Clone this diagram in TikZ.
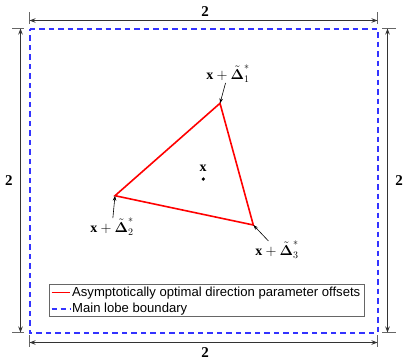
\documentclass[tikz,border=0pt]{standalone}
\usepackage{amsmath,amssymb,bm}
\usepackage{fontspec}
\setmainfont{Liberation Serif}
\newfontfamily\legendfont{Liberation Sans}
\usetikzlibrary{arrows.meta,positioning}

\begin{document}
\begin{tikzpicture}[
  x=1pt, y=-1pt,
  >=Stealth,
  dimarrow/.style={{Stealth[length=6pt,width=4.5pt]}-{Stealth[length=6pt,width=4.5pt]}, line width=1.1pt, black!80},
  extline/.style={line width=0.8pt, black!60},
  dimlabel/.style={font=\fontsize{15}{15}\selectfont\bfseries, inner sep=0pt},
  lobe/.style={draw=blue!80, dash pattern=on 5.5pt off 4pt, line width=2pt},
  offset/.style={draw=red, line width=1.6pt},
  vlabel/.style={font=\fontsize{14}{15}\selectfont, inner sep=0pt},
  pointer/.style={-{Stealth[length=5pt,width=3.5pt]}, line width=0.6pt},
  legendtext/.style={font=\legendfont\fontsize{13.1}{14}\selectfont, anchor=west, inner sep=0pt}
]
\useasboundingbox (0,0) rectangle (409,362);

% main lobe corners
\coordinate (NW) at (29.5,28.5);
\coordinate (NE) at (377.5,28.5);
\coordinate (SE) at (377.5,332.5);
\coordinate (SW) at (29.5,332.5);
\draw[lobe] (NW) -- (NE) -- (SE) -- (SW) -- cycle;

% dimension lines
\coordinate (topL) at (29.5,20.5);
\coordinate (topR) at (377.5,20.5);
\coordinate (botL) at (29.5,342.5);
\coordinate (botR) at (377.5,342.5);
\coordinate (lefT) at (20.5,28.5);
\coordinate (lefB) at (20.5,332.5);
\coordinate (rigT) at (387.5,28.5);
\coordinate (rigB) at (387.5,332.5);
\draw[extline] (29.5,12) -- (29.5,24) (377.5,12) -- (377.5,24);
\draw[extline] (29.5,335) -- (29.5,347) (377.5,335) -- (377.5,347);
\draw[extline] (12,28.5) -- (24,28.5) (382,28.5) -- (396,28.5);
\draw[extline] (12,332.5) -- (24,332.5) (382,332.5) -- (396,332.5);
\draw[dimarrow] (topL) -- (topR);
\draw[dimarrow] (botL) -- (botR);
\draw[dimarrow] (lefT) -- (lefB);
\draw[dimarrow] (rigT) -- (rigB);
\node[dimlabel] (wtop) at (205,12) {2};
\node[dimlabel] (wbot) at (205,353) {2};
\node[dimlabel] (hleft) at (9,181) {2};
\node[dimlabel] (hright) at (399,181) {2};

% offsets triangle
\coordinate (D1) at (220,103.3);
\coordinate (D2) at (115,195.7);
\coordinate (D3) at (253.3,225);
\draw[offset] (D1) -- (D3) -- (D2) -- cycle;

\fill (203.3,179) circle (1.8pt);
\node[vlabel] (xc) at (203,168) {$\mathbf{x}$};

\node[vlabel] (L1) at (228,74) {$\mathbf{x}+\tilde{\bm{\Delta}}_1^{*}$};
\node[vlabel] (L2) at (112,227) {$\mathbf{x}+\tilde{\bm{\Delta}}_2^{*}$};
\node[vlabel] (L3) at (277,250) {$\mathbf{x}+\tilde{\bm{\Delta}}_3^{*}$};
\draw[pointer] (L1) -- (D1);
\draw[pointer] (L2) -- (D2);
\draw[pointer] (L3) -- (D3);

% legend
\draw[black!60, line width=0.8pt] (49.3,284) rectangle (364.3,316.7);
\draw[red, line width=1.6pt] (51.7,292.3) -- (70,292.3);
\draw[blue!80, dash pattern=on 5pt off 4pt, line width=1.6pt] (51.7,309) -- (70,309);
\node[legendtext] (leg1) at (72,292.8) {Asymptotically optimal direction parameter offsets};
\node[legendtext] (leg2) at (72,309.3) {Main lobe boundary};
\end{tikzpicture}
\end{document}
